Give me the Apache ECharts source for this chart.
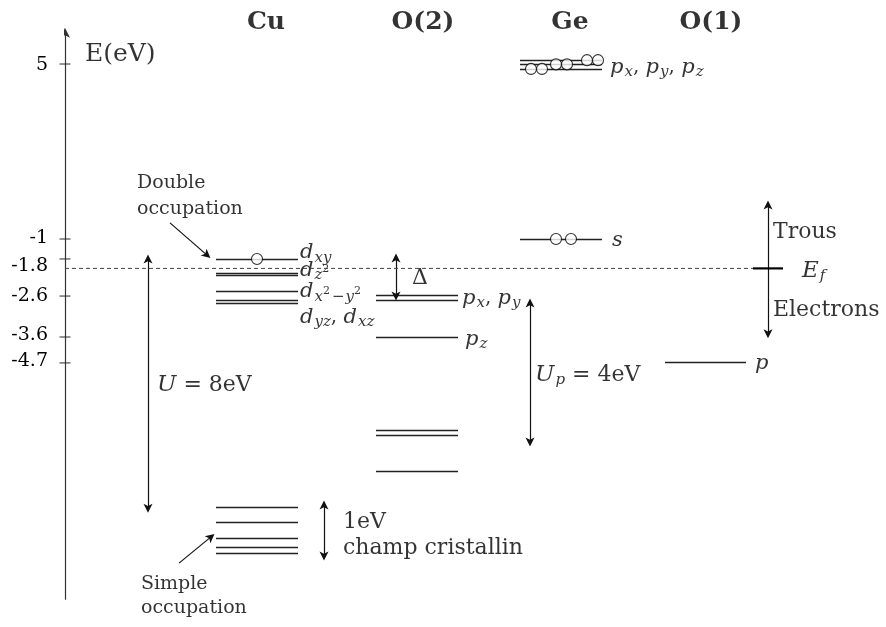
<!DOCTYPE html>
<html>
<head>
<meta charset="utf-8">
<script src="https://cdn.jsdelivr.net/npm/echarts@6/dist/echarts.min.js"></script>
<style>
  html, body { margin: 0; padding: 0; background: #fff; }
  #chart { width: 886px; height: 627px; }
</style>
</head>
<body>
<div id="chart"></div>
<script>
// x : position horizontale depuis l'axe, y : niveau sur l'axe E
// colonnes Cu, O(2), Ge, O(1)
const cuX = [151, 233];
const o2X = [311, 393];
const geX = [455, 537];
const o1X = [600, 681];

// niveaux d'energie
const cuLevels = [-1.57, -1.97, -2.03, -2.49, -2.74, -2.83, -8.66, -9.09, -9.54, -9.80, -9.97];
const o2Levels = [-2.61, -2.73, -3.80, -6.46, -6.60, -7.63];
const geLevels = [4.11, 3.99, 3.86, -1.00];
const o1Levels = [-4.51];

const fermiLevel = -1.84;

// electrons (cercles)
const electrons = [
  [192, -1.57],
  [491, -1.0], [506, -1.0],
  [466, 3.86], [477, 3.86],
  [491, 3.99], [502, 3.99],
  [522, 4.11], [533, 4.11]
];

// graduations de l'axe
const tickPos = [4.0, -1.0, -1.57, -2.63, -3.8, -4.54];
const labelPos = [3.97, -0.97, -1.77, -2.63, -3.74, -4.49];
const tickLabels = ['5', '-1', '-1.8', '-2.6', '-3.6', '-4.7'];

// fleches doubles et simples
const doubleArrows = [
  [[83, -1.57], [83, -8.69]],
  [[465, -2.83], [465, -6.8]],
  [[331, -1.54], [331, -2.63]],
  [[259, -8.6], [259, -10.06]],
  [[703, -0.03], [703, -3.71]]
];
const singleArrows = [
  [[105, -0.54], [142, -1.46]],
  [[114, -10.26], [146, -9.51]]
];

// textes
const texts = [
  [201, 5.2, '{hd|Cu}', 'inside'],
  [358, 5.2, '{hd|O(2)}', 'inside'],
  [505, 5.2, '{hd|Ge}', 'inside'],
  [646, 5.2, '{hd|O(1)}', 'inside'],
  [20, 4.26, '{big|E(eV)}', 'right'],
  [235, -1.40, '{it|d}{sub|xy}', 'right'],
  [235, -1.89, '{it|d}{sub|z}{ssup|2}', 'right'],
  [235, -2.51, '{it|d}{sub|x}{ssup|2}{sub|−}{sub|y}{ssup|2}', 'right'],
  [235, -3.23, '{it|d}{sub|yz}{rm|, }{it|d}{sub|xz}', 'right'],
  [397, -2.69, '{it|p}{sub|x}{rm|, }{it|p}{sub|y}', 'right'],
  [400, -3.86, '{it|p}{sub|z}', 'right'],
  [547, -1.03, '{it|s}', 'right'],
  [545, 3.91, '{it|p}{sub|x}{rm|, }{it|p}{sub|y}{rm|, }{it|p}{sub|z}', 'right'],
  [690, -4.57, '{it|p}', 'right'],
  [708, -0.8, '{lg|Trous}', 'right'],
  [737, -1.91, '{itl|E}{sub|f}', 'right'],
  [708, -3.03, '{lg|Electrons}', 'right'],
  [347, -2.11, '{lg|Δ}', 'right'],
  [92, -5.17, '{itl|U}{lg| = 8eV}', 'right'],
  [470, -4.89, '{itl|U}{sub|p}{lg| = 4eV}', 'right'],
  [278, -9.09, '{lg|1eV}', 'right'],
  [278, -9.83, '{lg|champ cristallin}', 'right'],
  [72, 0.6, '{sm|Double}', 'right'],
  [72, -0.14, '{sm|occupation}', 'right'],
  [76, -10.86, '{sm|Simple}', 'right'],
  [76, -11.54, '{sm|occupation}', 'right']
];

const serif = 'DejaVu Serif';
const levelRows = [];
cuLevels.forEach(v => levelRows.push([cuX[0], cuX[1], v]));
o2Levels.forEach(v => levelRows.push([o2X[0], o2X[1], v]));
geLevels.forEach(v => levelRows.push([geX[0], geX[1], v]));
o1Levels.forEach(v => levelRows.push([o1X[0], o1X[1], v]));

const rich = {
  hd: { fontFamily: serif, fontWeight: 'bold', fontSize: 25, color: '#000' },
  big: { fontFamily: serif, fontSize: 25, color: '#000' },
  lg: { fontFamily: serif, fontSize: 22, color: '#000', verticalAlign: 'middle' },
  sm: { fontFamily: serif, fontSize: 19, color: '#000' },
  rm: { fontFamily: serif, fontSize: 20, color: '#000', verticalAlign: 'middle' },
  it: { fontFamily: serif, fontStyle: 'italic', fontSize: 21, color: '#000', verticalAlign: 'middle' },
  itl: { fontFamily: serif, fontStyle: 'italic', fontSize: 23, color: '#000', verticalAlign: 'middle' },
  sub: { fontFamily: serif, fontStyle: 'italic', fontSize: 15, color: '#000', padding: [10, 0, 0, 1], verticalAlign: 'middle' },
  ssup: { fontFamily: serif, fontSize: 11, color: '#000', padding: [0, 1, 2, 0], verticalAlign: 'middle' }
};

const chart = echarts.init(document.getElementById('chart'));
chart.setOption({
  animation: false,
  backgroundColor: '#fff',
  grid: { left: 65, right: 0, top: 0, bottom: 0 },
  xAxis: { type: 'value', min: 0, max: 821, show: false },
  yAxis: {
    type: 'value', min: -12.086, max: 5.829,
    splitLine: { show: false },
    axisLine: { show: false },
    axisTick: { show: false },
    axisLabel: {
      customValues: labelPos,
      margin: 17,
      fontFamily: serif, fontSize: 19, color: '#000',
      formatter: v => tickLabels[labelPos.indexOf(v)]
    }
  },
  series: [
    {
      type: 'custom',
      data: levelRows,
      encode: { x: [0, 1], y: 2 },
      renderItem: (params, api) => {
        const a = api.coord([api.value(0), api.value(2)]);
        const b = api.coord([api.value(1), api.value(2)]);
        return {
          type: 'line',
          shape: { x1: a[0], y1: Math.round(a[1]) + 0.5, x2: b[0], y2: Math.round(b[1]) + 0.5 },
          style: { stroke: '#222', lineWidth: 1.3 }
        };
      }
    },
    {
      type: 'line', symbol: 'none',
      data: [[0, fermiLevel], [688, fermiLevel]],
      lineStyle: { color: '#444', width: 1, type: [4, 3] }
    },
    {
      type: 'line', symbol: 'none',
      data: [[688, fermiLevel], [718, fermiLevel]],
      lineStyle: { color: '#000', width: 2.2 }
    },
    {
      type: 'lines', coordinateSystem: 'cartesian2d',
      symbol: ['none', 'path://M0,0L5,12L0,9L-5,12Z'], symbolSize: 10,
      lineStyle: { color: '#333', width: 1.2, opacity: 1 },
      data: [{ coords: [[0, -11.31], [0, 4.89]] }]
    },
    {
      type: 'lines', coordinateSystem: 'cartesian2d',
      symbol: ['path://M0,0L5,12L0,9L-5,12Z', 'path://M0,0L5,12L0,9L-5,12Z'], symbolSize: 9,
      lineStyle: { color: '#111', width: 1.2, opacity: 1 },
      data: doubleArrows.map(c => ({ coords: c }))
    },
    {
      type: 'lines', coordinateSystem: 'cartesian2d',
      symbol: ['none', 'path://M0,0L5,12L0,9L-5,12Z'], symbolSize: 9,
      lineStyle: { color: '#111', width: 1.2, opacity: 1 },
      data: singleArrows.map(c => ({ coords: c }))
    },
    {
      type: 'scatter',
      symbol: 'rect', symbolSize: [11, 1.2],
      itemStyle: { color: '#222' },
      data: tickPos.map(v => [0, v])
    },
    {
      type: 'scatter',
      symbol: 'circle', symbolSize: 11,
      itemStyle: { color: '#fff', borderColor: '#000', borderWidth: 1.1 },
      data: electrons
    },
    {
      type: 'scatter',
      symbolSize: 0,
      clip: false,
      data: texts.map(t => ({
        value: [t[0], t[1]],
        label: {
          show: true, position: t[3], distance: 0, color: '#000',
          formatter: t[2], rich: rich
        }
      }))
    }
  ]
});
</script>
</body>
</html>
